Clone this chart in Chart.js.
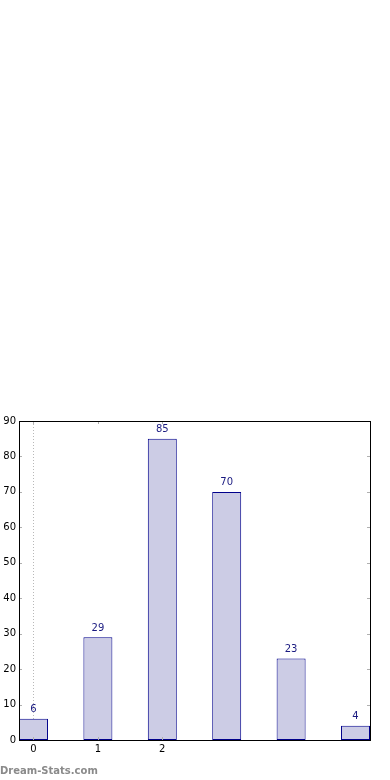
<!DOCTYPE html>
<html>
<head>
<meta charset="utf-8">
<script src="https://cdn.jsdelivr.net/npm/chart.js@4.4.1/dist/chart.umd.min.js"></script>
<style>
  html, body { margin: 0; padding: 0; background: #fff; }
  canvas { display: block; }
</style>
</head>
<body>
<canvas id="c" width="390" height="780"></canvas>
<script>
// Data
const categories = [0, 1, 2, 3, 4, 5];
const values = [6, 29, 85, 70, 23, 4];
const xTickValues = [0, 1, 2];
const xTickLabels = ['0', '1', '2'];
const yTickValues = [0, 10, 20, 30, 40, 50, 60, 70, 80, 90];

const FONT = '"DejaVu Sans", sans-serif';

const framePlugin = {
  id: 'frame',
  beforeDatasetsDraw(chart) {
    const ctx = chart.ctx, a = chart.chartArea;
    const xs = chart.scales.x;
    ctx.save();
    ctx.strokeStyle = '#b8b8b8';
    ctx.lineWidth = 1;
    ctx.setLineDash([1, 2]);
    const px = Math.round(xs.getPixelForValue(0)) + 0.5;
    ctx.beginPath();
    ctx.moveTo(px, a.top);
    ctx.lineTo(px, a.bottom);
    ctx.stroke();
    ctx.restore();
  },
  afterDatasetsDraw(chart) {
    const ctx = chart.ctx, a = chart.chartArea;
    const xs = chart.scales.x, ys = chart.scales.y;
    ctx.save();
    ctx.strokeStyle = '#b0b0b0';
    ctx.lineWidth = 1;
    ctx.beginPath();
    xTickValues.forEach(v => {
      const px = Math.round(xs.getPixelForValue(v)) + 0.5;
      ctx.moveTo(px, a.bottom); ctx.lineTo(px, a.bottom - 3);
      ctx.moveTo(px, a.top); ctx.lineTo(px, a.top + 3);
    });
    yTickValues.forEach(v => {
      const py = Math.round(ys.getPixelForValue(v)) + 0.5;
      ctx.moveTo(a.left, py); ctx.lineTo(a.left + 3, py);
      ctx.moveTo(a.right, py); ctx.lineTo(a.right - 3, py);
    });
    ctx.stroke();
    ctx.strokeStyle = '#000';
    ctx.strokeRect(a.left + 0.5, a.top + 0.5, a.right - a.left, a.bottom - a.top);
    ctx.fillStyle = '#1a1a80';
    ctx.font = '10px ' + FONT;
    ctx.textAlign = 'center';
    ctx.textBaseline = 'bottom';
    const meta = chart.getDatasetMeta(0);
    meta.data.forEach((el, i) => {
      ctx.fillText(String(values[i]), el.x, el.y - 4);
    });
    ctx.fillStyle = '#8a8a8a';
    ctx.font = 'bold 10px ' + FONT;
    ctx.textAlign = 'left';
    ctx.textBaseline = 'alphabetic';
    ctx.fillText('Dream-Stats.com', 0, 774);
    ctx.restore();
  }
};

new Chart(document.getElementById('c'), {
  type: 'bar',
  data: {
    datasets: [{
      data: categories.map((c, i) => ({ x: c, y: values[i] })),
      backgroundColor: 'rgb(204,204,229)',
      borderColor: '#00008b',
      borderWidth: 1,
      borderSkipped: false,
      barPercentage: 0.45,
      categoryPercentage: 1
    }]
  },
  options: {
    responsive: false,
    animation: false,
    devicePixelRatio: 1,
    layout: { padding: { top: 421, right: 20, left: 0, bottom: 0 } },
    plugins: { legend: { display: false }, tooltip: { enabled: false } },
    scales: {
      x: {
        type: 'linear',
        min: -0.225,
        max: 5.225,
        offset: false,
        grid: { display: false, drawTicks: false, offset: false },
        border: { display: false },
        afterBuildTicks(scale) { scale.ticks = xTickValues.map(v => ({ value: v })); },
        afterFit(scale) { scale.height = 40; },
        ticks: {
          color: '#000',
          font: { family: FONT, size: 10 },
          padding: 3,
          maxRotation: 0,
          callback: (v) => { const i = xTickValues.indexOf(v); return i >= 0 ? xTickLabels[i] : ''; }
        }
      },
      y: {
        min: 0,
        max: 90,
        grid: { display: false, drawTicks: false },
        border: { display: false },
        afterBuildTicks(scale) { scale.ticks = yTickValues.map(v => ({ value: v })); },
        afterFit(scale) { scale.width = 19; },
        ticks: {
          color: '#000',
          font: { family: FONT, size: 10 },
          padding: 3
        }
      }
    }
  },
  plugins: [framePlugin]
});
</script>
</body>
</html>
